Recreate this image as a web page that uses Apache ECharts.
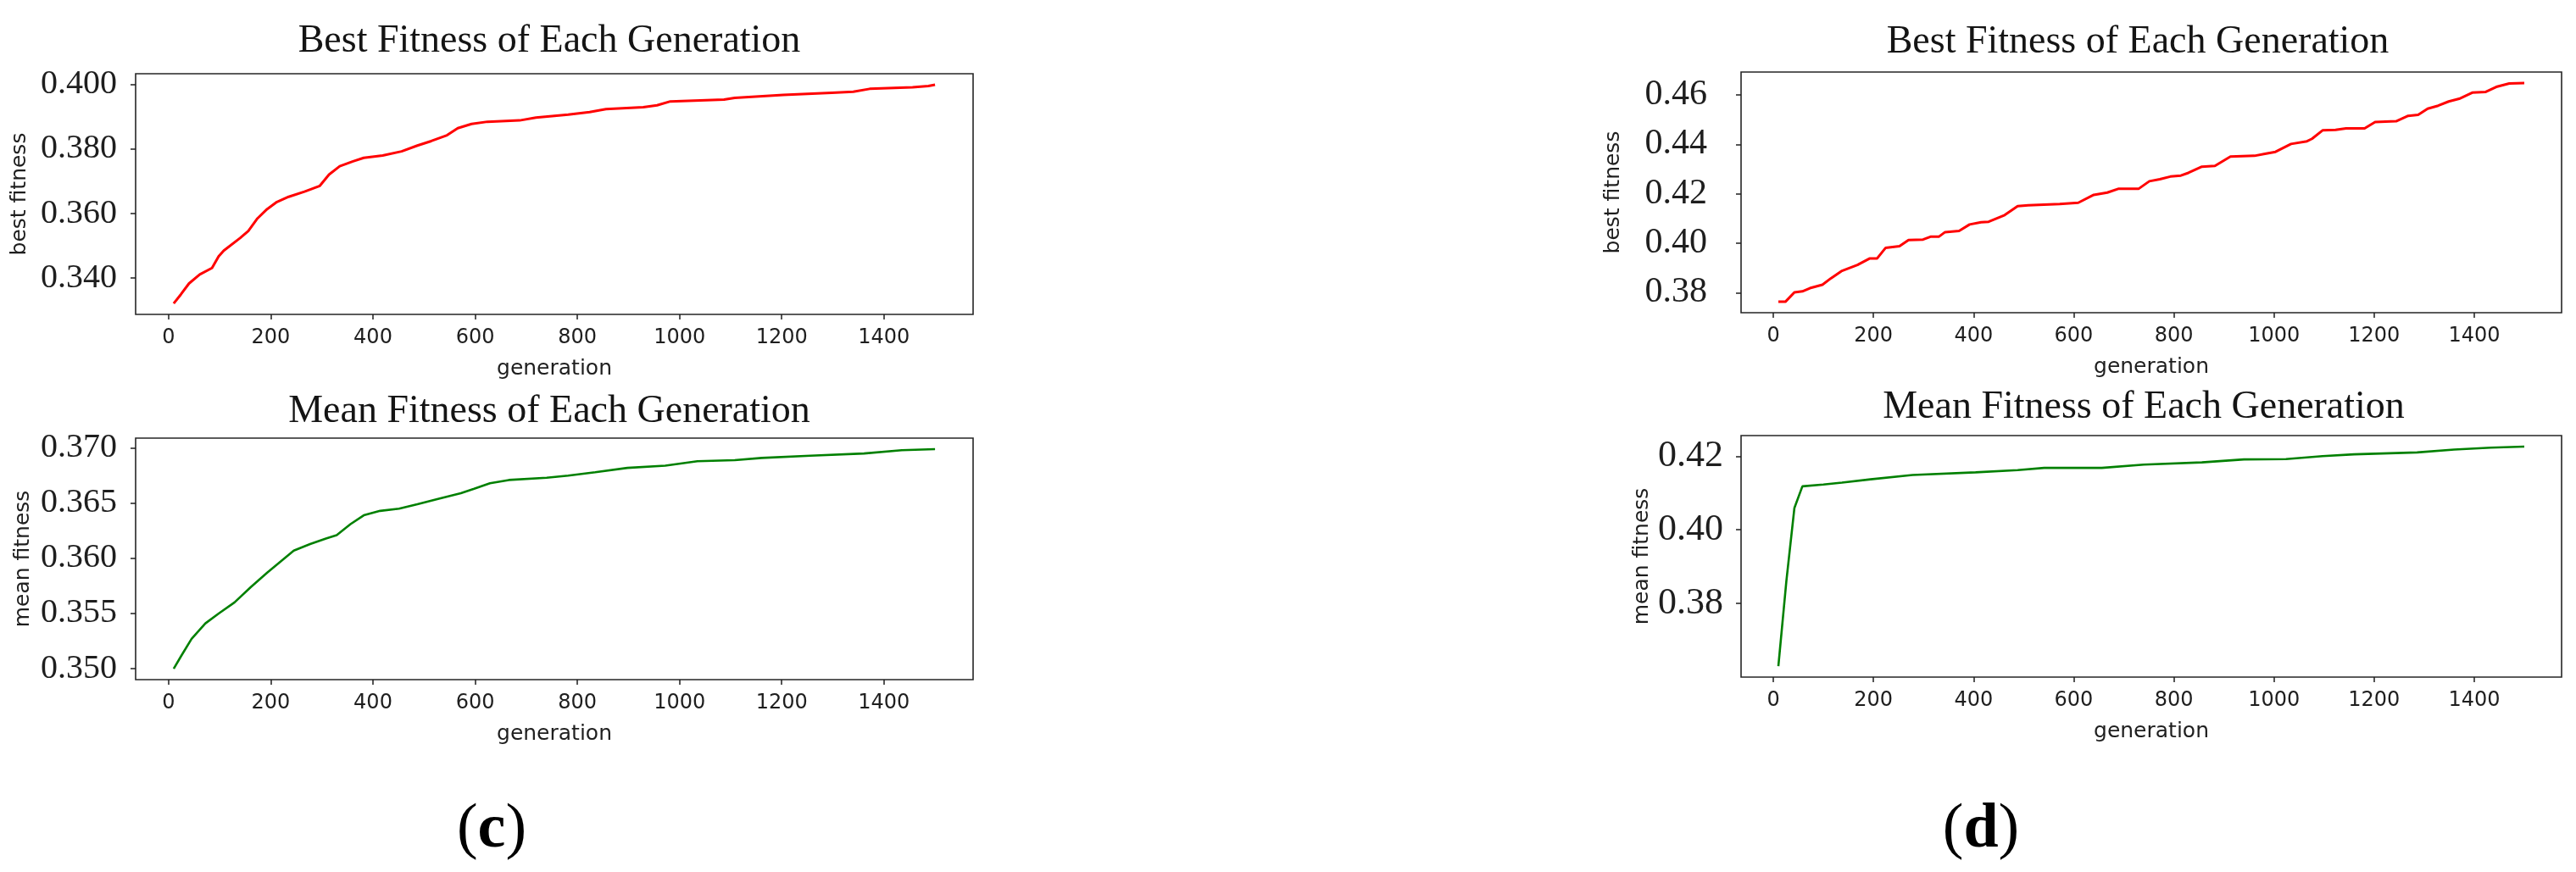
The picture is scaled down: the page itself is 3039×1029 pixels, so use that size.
<!DOCTYPE html>
<html>
<head>
<meta charset="utf-8">
<script src="https://cdn.jsdelivr.net/npm/echarts@6/dist/echarts.min.js"></script>
<style>
html,body{margin:0;padding:0;background:#ffffff;}
#chart{width:3039px;height:1029px;}
</style>
</head>
<body>
<div id="chart"></div>
<script>
// ---------- data ----------
// (c) best fitness
const cBestGen = [10, 24, 40, 61, 85, 98, 108, 140, 156, 174, 193, 212, 235, 266, 296, 314, 335, 361, 382, 419, 456, 487, 514, 545, 566, 593, 624, 687, 719, 782, 824, 856, 929, 956, 982, 1087, 1108, 1203, 1298, 1340, 1372, 1456, 1487, 1500];
const cBest = [0.3321, 0.3349, 0.3383, 0.3411, 0.3431, 0.3467, 0.3485, 0.3524, 0.3546, 0.3585, 0.3614, 0.3636, 0.3652, 0.3668, 0.3686, 0.3721, 0.3747, 0.3762, 0.3773, 0.3780, 0.3793, 0.3811, 0.3825, 0.3843, 0.3865, 0.3878, 0.3885, 0.3889, 0.3898, 0.3907, 0.3915, 0.3924, 0.3930, 0.3936, 0.3948, 0.3954, 0.3959, 0.3968, 0.3975, 0.3978, 0.3987, 0.3992, 0.3996, 0.4000];
// (c) mean fitness
const cMeanGen = [10, 24, 45, 72, 98, 129, 161, 193, 219, 245, 277, 308, 329, 356, 382, 414, 451, 487, 529, 572, 598, 629, 666, 740, 782, 835, 898, 972, 1035, 1108, 1161, 1256, 1361, 1435, 1500];
const cMean = [0.3500, 0.3511, 0.3527, 0.3541, 0.3550, 0.3560, 0.3574, 0.3587, 0.3597, 0.3607, 0.3613, 0.3618, 0.3621, 0.3631, 0.3639, 0.3643, 0.3645, 0.3649, 0.3654, 0.3659, 0.3663, 0.3668, 0.3671, 0.3673, 0.3675, 0.3678, 0.3682, 0.3684, 0.3688, 0.3689, 0.3691, 0.3693, 0.3695, 0.3698, 0.3699];
// (d) best fitness
const dBestGen = [10, 24, 42, 58, 73, 98, 115, 136, 168, 192, 207, 224, 252, 270, 299, 315, 331, 343, 371, 392, 415, 430, 462, 488, 509, 572, 609, 640, 667, 690, 730, 751, 772, 793, 814, 829, 856, 882, 913, 961, 982, 1003, 1034, 1066, 1076, 1097, 1123, 1144, 1181, 1202, 1244, 1268, 1288, 1307, 1328, 1349, 1370, 1396, 1423, 1444, 1470, 1500];
const dBest = [0.3763, 0.3763, 0.3801, 0.3805, 0.3818, 0.3832, 0.3858, 0.3887, 0.3912, 0.3938, 0.3938, 0.3981, 0.3988, 0.4013, 0.4015, 0.4027, 0.4027, 0.4045, 0.4050, 0.4076, 0.4085, 0.4087, 0.4114, 0.4150, 0.4154, 0.4159, 0.4164, 0.4196, 0.4205, 0.4221, 0.4221, 0.4251, 0.4259, 0.4270, 0.4274, 0.4285, 0.4310, 0.4313, 0.4351, 0.4354, 0.4362, 0.4370, 0.4402, 0.4413, 0.4423, 0.4457, 0.4459, 0.4465, 0.4465, 0.4491, 0.4494, 0.4516, 0.4520, 0.4545, 0.4557, 0.4574, 0.4585, 0.4610, 0.4613, 0.4633, 0.4647, 0.4649];
// (d) mean fitness
const dMeanGen = [10, 26, 42, 58, 100, 137, 194, 278, 404, 488, 541, 656, 740, 856, 940, 1024, 1097, 1160, 1286, 1360, 1433, 1500];
const dMean = [0.3630, 0.3861, 0.4059, 0.4118, 0.4123, 0.4128, 0.4137, 0.4149, 0.4156, 0.4162, 0.4168, 0.4168, 0.4177, 0.4183, 0.4191, 0.4192, 0.4200, 0.4205, 0.4210, 0.4218, 0.4223, 0.4226];

// tick labels
const genTicks = [0, 200, 400, 600, 800, 1000, 1200, 1400];
const cBestTicks = [0.340, 0.360, 0.380, 0.400];
const cMeanTicks = [0.350, 0.355, 0.360, 0.365, 0.370];
const dBestTicks = [0.38, 0.40, 0.42, 0.44, 0.46];
const dMeanTicks = [0.38, 0.40, 0.42];

// texts
const bestTitle = 'Best Fitness of Each Generation';
const meanTitle = 'Mean Fitness of Each Generation';
const xName = 'generation';
const bestName = 'best fitness';
const meanName = 'mean fitness';

// ---------- chart ----------
const chart = echarts.init(document.getElementById('chart'), null, {renderer: 'canvas'});
const zip = (xs, ys) => xs.map((x, i) => [x, ys[i]]);
const padMin = v => v.min - 0.05 * (v.max - v.min);
const padMax = v => v.max + 0.05 * (v.max - v.min);
const INK = '#1e1e1e';
const SERIF = '"Liberation Serif", "DejaVu Serif", serif';
const SANS = '"DejaVu Sans", sans-serif';

function gridCfg(left, top, width, height) {
  return {left, top, width, height, show: true, borderColor: '#262626', borderWidth: 1.6,
          backgroundColor: 'transparent', containLabel: false, outerBoundsMode: 'none'};
}
function xAxisCfg(gi) {
  return {
    type: 'value', gridIndex: gi, min: padMin, max: padMax, position: 'bottom',
    axisLine: {show: false, onZero: false}, splitLine: {show: false},
    axisTick: {show: true, length: 6, customValues: genTicks, lineStyle: {color: INK, width: 1.5}},
    axisLabel: {show: true, customValues: genTicks, margin: 16, fontFamily: SANS, fontSize: 24, color: INK,
                formatter: v => String(Math.round(v))},
    name: xName, nameLocation: 'middle', nameGap: 52, nameMoveOverlap: false,
    nameTextStyle: {fontFamily: SANS, fontSize: 25, color: INK}
  };
}
function yAxisCfg(gi, ticks, digits, fontSize, margin, name, nameGap) {
  return {
    type: 'value', gridIndex: gi, min: padMin, max: padMax, scale: true, position: 'left',
    axisLine: {show: false, onZero: false}, splitLine: {show: false},
    axisTick: {show: true, length: 6, customValues: ticks, lineStyle: {color: INK, width: 1.5}},
    axisLabel: {show: true, customValues: ticks, margin: margin, fontFamily: SERIF, fontSize: fontSize, color: INK,
                formatter: v => Number(v).toFixed(digits)},
    name: name, nameLocation: 'middle', nameGap: nameGap, nameRotate: 90, nameMoveOverlap: false,
    nameTextStyle: {fontFamily: SANS, fontSize: 25, color: INK}
  };
}
function lineCfg(i, xs, ys, color, w) {
  return {type: 'line', xAxisIndex: i, yAxisIndex: i, data: zip(xs, ys), showSymbol: false, symbol: 'none',
          lineStyle: {color: color, width: w}, itemStyle: {color: color}, animation: false, silent: true};
}
function titleText(x, y, text) {
  return {type: 'text', x: x, y: y, silent: true,
          style: {text: text, fontFamily: SERIF, fontSize: 46, fill: '#141414', align: 'center', verticalAlign: 'middle'}};
}
function panelLabel(x, y, letter) {
  return {type: 'text', x: x, y: y, silent: true,
          style: {text: '{p|(}{b|' + letter + '}{p|)}', align: 'center', verticalAlign: 'middle', fill: '#000',
                  rich: {p: {fontFamily: SERIF, fontSize: 74, fill: '#000'},
                         b: {fontFamily: SERIF, fontSize: 74, fontWeight: 'bold', fill: '#000'}}}};
}

const option = {
  backgroundColor: '#ffffff',
  animation: false,
  grid: [
    gridCfg(160, 87, 988, 284),
    gridCfg(160, 517, 988, 285),
    gridCfg(2054, 85, 968, 284),
    gridCfg(2054, 514, 968, 285)
  ],
  xAxis: [xAxisCfg(0), xAxisCfg(1), xAxisCfg(2), xAxisCfg(3)],
  yAxis: [
    yAxisCfg(0, cBestTicks, 3, 40, 22, bestName, 124),
    yAxisCfg(1, cMeanTicks, 3, 40, 22, meanName, 120),
    yAxisCfg(2, dBestTicks, 2, 42, 40, bestName, 138),
    yAxisCfg(3, dMeanTicks, 2, 44, 21, meanName, 104)
  ],
  series: [
    lineCfg(0, cBestGen, cBest, '#ff0000', 3),
    lineCfg(1, cMeanGen, cMean, '#008000', 2.6),
    lineCfg(2, dBestGen, dBest, '#ff0000', 3),
    lineCfg(3, dMeanGen, dMean, '#008000', 2.6)
  ],
  graphic: [
    titleText(648, 49, bestTitle),
    titleText(648, 486, meanTitle),
    titleText(2522, 50, bestTitle),
    titleText(2529, 481, meanTitle),
    panelLabel(580, 980, 'c'),
    panelLabel(2337, 980, 'd')
  ]
};
chart.setOption(option);
</script>
</body>
</html>
